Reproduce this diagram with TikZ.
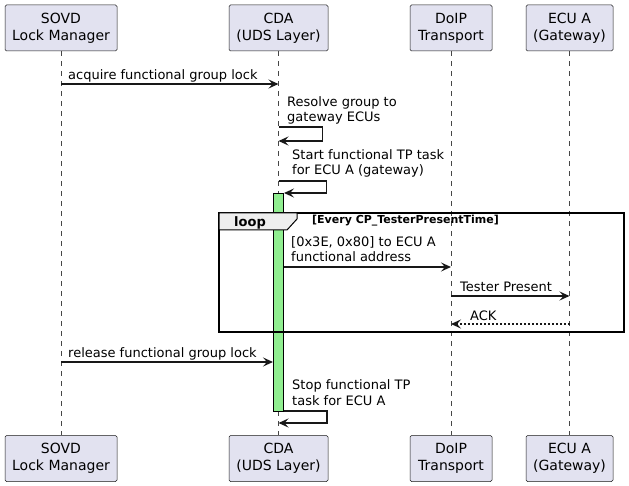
\documentclass[tikz,border=0pt]{standalone}
\usepackage{fontspec}
\setmainfont{DejaVu Sans}
\usetikzlibrary{arrows.meta}
\definecolor{partfill}{HTML}{E2E2F0}
\definecolor{ink}{HTML}{181818}
\definecolor{actgreen}{HTML}{90EE90}
\definecolor{tabfill}{HTML}{EEEEEE}
\tikzset{
  part/.style={draw=ink, line width=0.5pt, fill=partfill, rounded corners=1.5pt, minimum height=46pt, align=center, inner sep=0pt, font=\fontsize{14}{17}\selectfont},
  life/.style={draw=ink!80, line width=0.5pt, dash pattern=on 5pt off 5pt},
  msg/.style={draw=ink, line width=1.5pt, -{Stealth[length=10pt,width=9pt,inset=4pt]}},
  reply/.style={msg, dash pattern=on 2pt off 2pt},
  lbl/.style={anchor=base west, inner sep=0pt, align=left, font=\fontsize{13}{15.5}\selectfont},
}
\begin{document}
\begin{tikzpicture}[x=1pt,y=-1pt]
\useasboundingbox (0,0) rectangle (629,486);

% participants, top and bottom
\node[part, minimum width=112pt] (sovd) at (61,28) {SOVD\\Lock Manager};
\node[part, minimum width=99pt] (cda) at (278.5,28) {CDA\\(UDS Layer)};
\node[part, minimum width=82pt] (doip) at (451,28) {DoIP\\Transport};
\node[part, minimum width=87pt] (ecu) at (569.5,28) {ECU A\\(Gateway)};
\node[part, minimum width=112pt] (sovdB) at (61,458.5) {SOVD\\Lock Manager};
\node[part, minimum width=99pt] (cdaB) at (278.5,458.5) {CDA\\(UDS Layer)};
\node[part, minimum width=82pt] (doipB) at (451,458.5) {DoIP\\Transport};
\node[part, minimum width=87pt] (ecuB) at (569.5,458.5) {ECU A\\(Gateway)};

\foreach \p in {sovd,cda,doip,ecu}
  \draw[life] (\p) -- (\p B);

% activation of the CDA
\node[draw=black, line width=1pt, fill=actgreen, minimum width=10pt, minimum height=218pt, anchor=north, inner sep=0pt] (act) at (278.5,193) {};

% loop frame
\coordinate (fa) at (219,213);
\coordinate (fb) at (624,332);
\draw[line width=1.5pt, draw=black] (fa) rectangle (fb);
\draw[line width=1pt, draw=black, fill=tabfill] (fa) -- ++(78,0) -- ++(0,6) -- ++(-10,11) -- ++(-68,0) -- cycle;
\node[font=\bfseries\fontsize{13}{15}\selectfont, anchor=base, inner sep=0pt] (looplbl) at (250,227) {loop};
\node[font=\bfseries\fontsize{11}{13}\selectfont, anchor=base west, inner sep=0pt] (loopcond) at (312,224) {[Every CP\_TesterPresentTime]};

% rows of the messages
\coordinate (r1) at (0,84);
\coordinate (r2) at (0,127);
\coordinate (r3) at (0,141);
\coordinate (r4) at (0,181);
\coordinate (r5) at (0,193);
\coordinate (r6) at (0,267);
\coordinate (r7) at (0,296);
\coordinate (r8) at (0,324);
\coordinate (r9) at (0,362);
\coordinate (r10) at (0,411);
\coordinate (r11) at (0,423);

\draw[msg] (sovd |- r1) -- (cda |- r1);
\node[lbl] (t1) at (68,80) {acquire functional group lock};

\draw[msg] (cda |- r2) -- ++(44,0) |- (cda |- r3);
\node[lbl] (t2) at (287,122) {Resolve group to\\gateway ECUs};

\draw[msg] (cda |- r4) -- ++(48,0) |- (act.east |- r5);
\node[lbl] (t3) at (292,175) {Start functional TP task\\for ECU A (gateway)};

\draw[msg] (act.east |- r6) -- (doip |- r6);
\node[lbl] (t4) at (291,262) {[0x3E, 0x80] to ECU A\\functional address};

\draw[msg] (doip |- r7) -- (ecu |- r7);
\node[lbl] (t5) at (460,291) {Tester Present};

\draw[reply] (ecu |- r8) -- (doip |- r8);
\node[lbl] (t6) at (470,320) {ACK};

\draw[msg] (sovd |- r9) -- (act.west |- r9);
\node[lbl] (t7) at (68,357) {release functional group lock};

\draw[msg] (act.east |- r10) -- ++(43,0) |- (cda |- r11);
\node[lbl] (t8) at (292,405) {Stop functional TP\\task for ECU A};

\end{tikzpicture}
\end{document}
